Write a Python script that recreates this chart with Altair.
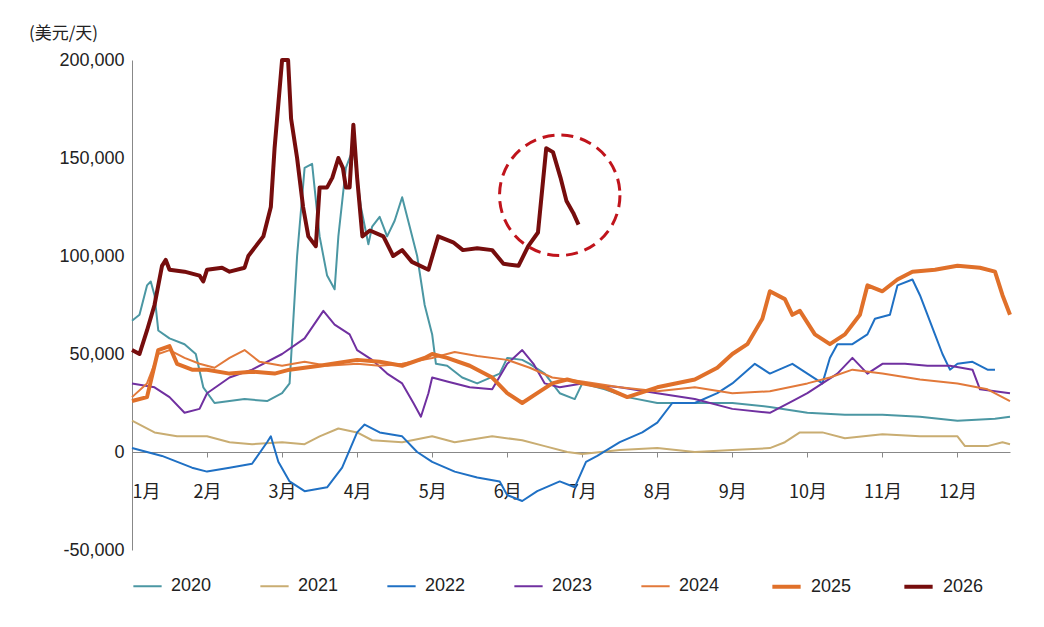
import altair as alt
import pandas as pd

# x is in months since 1 Jan (0 = 1月), values in USD/day
x2020 = [0, .1, .2, .25, .3, .35, .5, .7, .85, .95, 1.1, 1.5, 1.8, 2.0, 2.1, 2.2, 2.3, 2.4, 2.5, 2.6, 2.7, 2.75, 2.85, 2.95, 3.05, 3.15, 3.2, 3.3, 3.4, 3.5, 3.6, 3.7, 3.8, 3.9, 4.0, 4.05, 4.2, 4.4, 4.6, 4.9, 5.0, 5.2, 5.3, 5.5, 5.7, 5.9, 6.0, 6.3, 6.6, 7.0, 7.5, 8.0, 8.5, 9.0, 9.5, 10.0, 10.5, 11.0, 11.5, 11.7]
y2020 = [67e3, 70e3, 85e3, 87e3, 80e3, 62e3, 58e3, 55e3, 50e3, 33e3, 25e3, 27e3, 26e3, 30e3, 35e3, 100e3, 145e3, 147e3, 110e3, 90e3, 83e3, 110e3, 145e3, 155e3, 125e3, 106e3, 115e3, 120e3, 110e3, 118e3, 130e3, 115e3, 100e3, 75e3, 60e3, 45e3, 44e3, 38e3, 35e3, 40e3, 48e3, 47e3, 45e3, 40e3, 30e3, 27e3, 35e3, 32e3, 28e3, 25e3, 25e3, 25e3, 23e3, 20e3, 19e3, 19e3, 18e3, 16e3, 17e3, 18e3]

x2021 = [0, .3, .6, 1.0, 1.3, 1.6, 2.0, 2.3, 2.5, 2.75, 3.0, 3.2, 3.6, 4.0, 4.3, 4.8, 5.2, 5.5, 5.8, 6.0, 6.5, 7.0, 7.5, 8.0, 8.5, 8.7, 8.9, 9.2, 9.5, 10.0, 10.5, 11.0, 11.1, 11.4, 11.6, 11.7]
y2021 = [16e3, 10e3, 8e3, 8e3, 5e3, 4e3, 5e3, 4e3, 8e3, 12e3, 10e3, 6e3, 5e3, 8e3, 5e3, 8e3, 6e3, 3e3, 0, -1e3, 1e3, 2e3, 0, 1e3, 2e3, 5e3, 10e3, 10e3, 7e3, 9e3, 8e3, 8e3, 3e3, 3e3, 5e3, 4e3]

x2022 = [0, .4, .8, 1.0, 1.3, 1.6, 1.8, 1.85, 1.95, 2.1, 2.3, 2.6, 2.8, 3.0, 3.1, 3.3, 3.6, 3.8, 4.0, 4.3, 4.6, 4.9, 5.0, 5.2, 5.4, 5.7, 5.9, 6.05, 6.2, 6.5, 6.8, 7.0, 7.2, 7.5, 7.8, 8.0, 8.3, 8.5, 8.8, 9.0, 9.2, 9.3, 9.4, 9.6, 9.8, 9.9, 10.1, 10.2, 10.4, 10.5, 10.7, 10.8, 10.9, 11.0, 11.2, 11.4, 11.5]
y2022 = [2e3, -2e3, -8e3, -10e3, -8e3, -6e3, 5e3, 8e3, -5e3, -15e3, -20e3, -18e3, -8e3, 10e3, 14e3, 10e3, 8e3, 0, -5e3, -10e3, -13e3, -15e3, -22e3, -25e3, -20e3, -15e3, -18e3, -5e3, -2e3, 5e3, 10e3, 15e3, 25e3, 25e3, 30e3, 35e3, 45e3, 40e3, 45e3, 40e3, 35e3, 48e3, 55e3, 55e3, 60e3, 68e3, 70e3, 85e3, 88e3, 80e3, 60e3, 50e3, 42e3, 45e3, 46e3, 42e3, 42e3]

x2023 = [0, .3, .5, .7, .9, 1.0, 1.3, 1.6, 2.0, 2.3, 2.55, 2.7, 2.9, 3.0, 3.2, 3.4, 3.6, 3.75, 3.85, 3.95, 4.0, 4.2, 4.5, 4.8, 5.0, 5.2, 5.35, 5.5, 5.7, 6.0, 6.5, 7.0, 7.5, 8.0, 8.5, 8.8, 9.0, 9.2, 9.4, 9.6, 9.8, 10.0, 10.3, 10.6, 10.9, 11.2, 11.3, 11.5, 11.7]
y2023 = [35e3, 33e3, 28e3, 20e3, 22e3, 30e3, 38e3, 42e3, 50e3, 58e3, 72e3, 65e3, 60e3, 52e3, 47e3, 40e3, 35e3, 25e3, 18e3, 30e3, 38e3, 36e3, 33e3, 32e3, 45e3, 52e3, 45e3, 35e3, 33e3, 35e3, 33e3, 30e3, 27e3, 22e3, 20e3, 26e3, 30e3, 35e3, 40e3, 48e3, 40e3, 45e3, 45e3, 44e3, 44e3, 42e3, 32e3, 31e3, 30e3]

x2024 = [0, .2, .35, .5, .7, .9, 1.1, 1.3, 1.5, 1.7, 2.0, 2.3, 2.6, 3.0, 3.3, 3.6, 4.0, 4.3, 4.6, 5.0, 5.3, 5.6, 6.0, 6.5, 7.0, 7.5, 8.0, 8.5, 9.0, 9.3, 9.6, 10.0, 10.5, 11.0, 11.4, 11.7]
y2024 = [28e3, 35e3, 50e3, 52e3, 48e3, 45e3, 43e3, 48e3, 52e3, 46e3, 44e3, 46e3, 44e3, 45e3, 44e3, 45e3, 48e3, 51e3, 49e3, 47e3, 43e3, 38e3, 36e3, 33e3, 31e3, 33e3, 30e3, 31e3, 35e3, 38e3, 42e3, 40e3, 37e3, 35e3, 32e3, 26e3]

x2025 = [0, .2, .35, .5, .6, .8, 1.0, 1.3, 1.6, 1.9, 2.1, 2.5, 3.0, 3.3, 3.6, 3.9, 4.0, 4.2, 4.5, 4.8, 5.0, 5.2, 5.4, 5.6, 5.8, 6.0, 6.3, 6.6, 7.0, 7.5, 7.8, 8.0, 8.2, 8.4, 8.5, 8.7, 8.8, 8.9, 9.1, 9.3, 9.5, 9.7, 9.8, 10.0, 10.2, 10.4, 10.7, 11.0, 11.3, 11.5, 11.6, 11.7]
y2025 = [26e3, 28e3, 52e3, 54e3, 45e3, 42e3, 42e3, 40e3, 41e3, 40e3, 42e3, 44e3, 47e3, 46e3, 44e3, 48e3, 50e3, 48e3, 44e3, 38e3, 30e3, 25e3, 30e3, 35e3, 37e3, 35e3, 33e3, 28e3, 33e3, 37e3, 43e3, 50e3, 55e3, 68e3, 82e3, 78e3, 70e3, 72e3, 60e3, 55e3, 60e3, 70e3, 85e3, 82e3, 88e3, 92e3, 93e3, 95e3, 94e3, 92e3, 80e3, 70e3]

x2026 = [0, .1, .2, .3, .4, .45, .5, .7, .9, .95, 1.0, 1.2, 1.3, 1.5, 1.55, 1.75, 1.85, 1.9, 2.0, 2.08, 2.12, 2.2, 2.28, 2.35, 2.45, 2.5, 2.6, 2.67, 2.75, 2.81, 2.85, 2.9, 2.95, 3.0, 3.07, 3.17, 3.35, 3.48, 3.6, 3.73, 3.95, 4.08, 4.28, 4.41, 4.6, 4.8, 4.95, 5.15, 5.28, 5.41, 5.52, 5.61, 5.71, 5.79, 5.88, 5.95]
y2026 = [52e3, 50e3, 62e3, 75e3, 95e3, 98e3, 93e3, 92e3, 90e3, 87e3, 93e3, 94e3, 92e3, 94e3, 100e3, 110e3, 125e3, 155e3, 200e3, 200e3, 170e3, 150e3, 125e3, 110e3, 105e3, 135e3, 135e3, 140e3, 150e3, 145e3, 135e3, 135e3, 167e3, 140e3, 110e3, 113e3, 110e3, 100e3, 103e3, 97e3, 93e3, 110e3, 107e3, 103e3, 104e3, 103e3, 96e3, 95e3, 105e3, 112e3, 155e3, 153e3, 140e3, 128e3, 122e3, 116e3]

years = ['2020', '2021', '2022', '2023', '2024', '2025', '2026']
colors = ['#4b97a3', '#c9ad72', '#1f70c4', '#7030a0', '#e2793a', '#e0702a', '#760d0d']
widths = [2, 2, 2, 2, 2, 4, 4]
months = ['1月', '2月', '3月', '4月', '5月', '6月', '7月', '8月', '9月', '10月', '11月', '12月']

series = [(x2020, y2020), (x2021, y2021), (x2022, y2022), (x2023, y2023),
          (x2024, y2024), (x2025, y2025), (x2026, y2026)]
rows = []
for yr, (xs, ys) in zip(years, series):
    for i, (a, b) in enumerate(zip(xs, ys)):
        rows.append({'year': yr, 'm': a, 'v': b, 'i': i})
df = pd.DataFrame(rows)

font = 'Liberation Sans'
label_expr = '[' + ','.join(f'"{m}"' for m in months) + '][datum.value]'

legend = alt.Legend(title=None, orient='bottom', direction='horizontal',
    symbolType='stroke', symbolSize=800, labelFontSize=18,
    labelFont=font, labelColor='#222', columnPadding=44, offset=20,
    labelOffset=8)

lines = alt.Chart(df).mark_line(strokeJoin='round').encode(
    x=alt.X('m:Q', scale=alt.Scale(domain=[0, 11.7], nice=False),
        axis=alt.Axis(values=list(range(12)), labelExpr=label_expr, title=None,
            offset=-98, labelPadding=26, tickSize=5, grid=False,
            domainColor='#888', tickColor='#888', labelFontSize=18,
            labelColor='#222', labelFont='Noto Sans CJK SC')),
    y=alt.Y('v:Q', scale=alt.Scale(domain=[-50000, 200000], nice=False),
        axis=alt.Axis(values=[-50000, 0, 50000, 100000, 150000, 200000],
            labelExpr="(datum.value < 0 ? '-' : '') + format(abs(datum.value), ',')",
            title=None, grid=False, ticks=False,
            domainColor='#888', labelFontSize=18, labelColor='#222',
            labelFont=font, labelPadding=8)),
    color=alt.Color('year:N', scale=alt.Scale(domain=years, range=colors),
        legend=legend),
    strokeWidth=alt.StrokeWidth('year:N',
        scale=alt.Scale(domain=years, range=widths, type='ordinal'),
        legend=legend),
    order='i:Q',
)

circle = alt.Chart(pd.DataFrame({'m': [5.7], 'v': [131000]})).mark_point(
    shape='circle', size=14500, color='#c0141c', strokeWidth=3,
    strokeDash=[12, 7], filled=False, opacity=1
).encode(x='m:Q', y='v:Q')

chart = (lines + circle).properties(
    width=878, height=490,
    padding={'left': 20, 'top': 17, 'right': 5, 'bottom': 5},
    title=alt.TitleParams('(美元/天)', anchor='start', font='Noto Sans CJK SC',
        fontSize=17, fontWeight='normal', color='#222', offset=8, dx=-30)
).configure_view(stroke=None)

chart.save("out.html", embed_options={"renderer": "svg", "actions": False})
